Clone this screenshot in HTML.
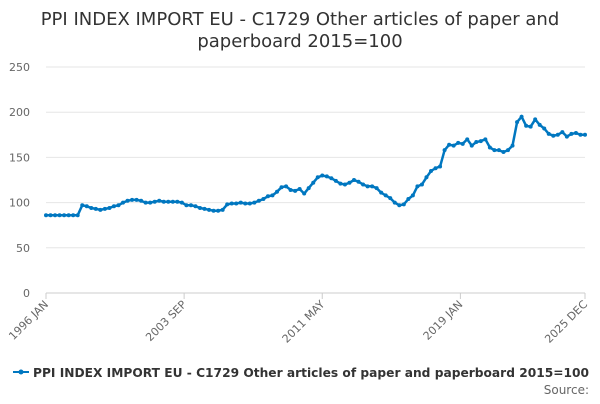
<!DOCTYPE html>
<html><head><meta charset="utf-8"><style>
body{margin:0;background:#fff;font-family:"DejaVu Sans","Liberation Sans",sans-serif}
</style></head><body>
<svg width="600" height="400" xmlns="http://www.w3.org/2000/svg" id="c" font-family="DejaVu Sans, Liberation Sans, sans-serif">
<text x="300" y="25" text-anchor="middle" font-size="18" fill="#333">PPI INDEX IMPORT EU - C1729 Other articles of paper and</text>
<text x="300" y="47" text-anchor="middle" font-size="18" fill="#333">paperboard 2015=100</text>
<g id="grid"></g><g id="yl"></g><g id="xl"></g><g id="ser"></g>
<g>
<line x1="13" y1="372" x2="29" y2="372" stroke="#0077c0" stroke-width="2"/>
<circle cx="21" cy="372" r="2.5" fill="#0077c0"/>
<text x="33" y="377" font-size="12.5" font-weight="bold" fill="#333" textLength="556" lengthAdjust="spacingAndGlyphs">PPI INDEX IMPORT EU - C1729 Other articles of paper and paperboard 2015=100</text>
</g>
<text x="589" y="394" text-anchor="end" font-size="12" fill="#666">Source:</text>
</svg>
<script>
const yTicks=[0,50,100,150,200,250];
const xTickLabels=["1996 JAN","2003 SEP","2011 MAY","2019 JAN","2025 DEC"];
const xTickMonths=[0,92,184,276,359];
const values=[86,86,86,86, 86,86,86,86, 97,96,94,93, 92,93,94,96, 97,100,102,103, 103,102,100,100, 101,102,101,101, 101,101,100,97, 97,96,94,93, 92,91,91,92, 98,99,99,100, 99,99,100,102, 104,107,108,112, 117,118,114,113, 115,110,116,122, 128,130,129,127, 124,121,120,122, 125,123,120,118, 118,116,111,108, 105,100,97,98, 104,108,118,120, 128,135,138,140, 158,164,163,166, 165,170,163,167, 168,170,161,158, 158,156,158,163, 189,195,185,184, 192,186,182,176, 174,175,178,173, 176,177,175,175];
const NS="http://www.w3.org/2000/svg";
const x0=46,x1=585,y0=293,y1=67;
const xS=m=>x0+m*(x1-x0)/359;
const yS=v=>y0-v*(y0-y1)/250;
function mk(t,a,p){const e=document.createElementNS(NS,t);for(const k in a)e.setAttribute(k,a[k]);document.getElementById(p).appendChild(e);return e;}
yTicks.forEach(v=>{
  const l=mk('line',{x1:x0,x2:x1,y1:yS(v),y2:yS(v),stroke:v===0?'#ccc':'#e6e6e6'},'grid');
  
  
  const t=mk('text',{x:30,y:yS(v)+4,'text-anchor':'end','font-size':11,fill:'#666'},'yl');
  t.textContent=v;
  
  
});
xTickLabels.forEach((s,i)=>{
  const x=xS(xTickMonths[i]);
  const tk=mk('line',{x1:x,x2:x,y1:y0,y2:y0+6,stroke:'#ccc'},'xl');
  
  
  const t=mk('text',{x:x+3,y:y0+12,'text-anchor':'end','font-size':11,fill:'#666',transform:`rotate(-45 ${x+3} ${y0+12})`},'xl');
  t.textContent=s;
  
  
});
const pts=values.map((v,i)=>[xS(i*359/(values.length-1)),yS(v)]);
const p=mk('path',{d:'M'+pts.map(q=>q[0].toFixed(1)+','+q[1].toFixed(1)).join('L'),fill:'none',stroke:'#0077c0','stroke-width':2.5},'ser');


pts.forEach(q=>{
  const c=mk('circle',{cx:q[0],cy:q[1],r:2,fill:'#0077c0'},'ser');
  
  
});
</script>
</body></html>
